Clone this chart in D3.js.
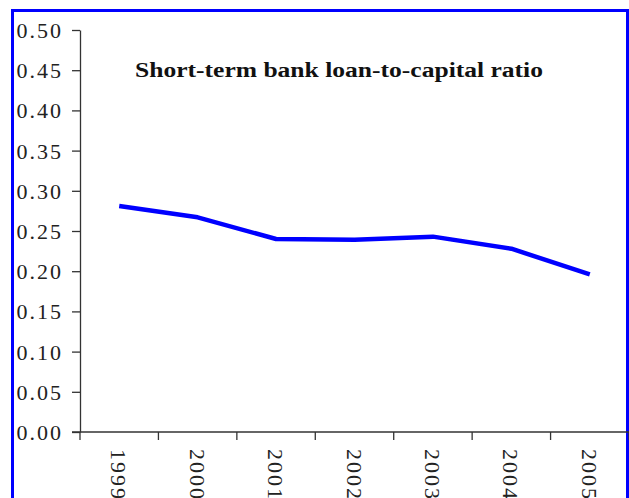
<!DOCTYPE html>
<html>
<head>
<meta charset="utf-8">
<script src="https://cdn.jsdelivr.net/npm/d3@7"></script>
<style>
  body { margin: 0; background: #fff; }
  svg { display: block; }
</style>
</head>
<body>
<div id="chart"></div>
<script>
// Data
var years = ["1999", "2000", "2001", "2002", "2003", "2004", "2005"];
var ratio = [0.281, 0.267, 0.240, 0.239, 0.243, 0.228, 0.196];
var yTicks = [0, 0.05, 0.10, 0.15, 0.20, 0.25, 0.30, 0.35, 0.40, 0.45, 0.50];
var title = "Short-term bank loan-to-capital ratio";

var serif = "'Liberation Serif', 'Times New Roman', Times, serif";

var svgWidth = 629;
var svgHeight = 498;

var margin = {top: 30, right: 0, bottom: 66, left: 80};
var width = svgWidth - margin.left - margin.right;
var height = svgHeight - margin.top - margin.bottom;

var svg = d3.select("#chart")
  .append("svg")
  .attr("width", svgWidth)
  .attr("height", svgHeight);

// blue frame round the chart
svg.append("rect")
  .attr("x", 12.5)
  .attr("y", 10.5)
  .attr("width", 615)
  .attr("height", 520)
  .attr("fill", "none")
  .attr("stroke", "#0000ff")
  .attr("stroke-width", 3);

var chartGroup = svg.append("g")
  .attr("transform", `translate(${margin.left}, ${margin.top})`);

// scales
var xScale = d3.scaleBand()
  .domain(years)
  .range([0, width])
  .padding(0);

var yScale = d3.scaleLinear()
  .domain([0, 0.5])
  .range([height, 0]);

// y axis
var yAxis = d3.axisLeft(yScale)
  .tickValues(yTicks)
  .tickSize(8)
  .tickSizeOuter(0)
  .tickPadding(9)
  .tickFormat(d3.format(".2f"));

var yG = chartGroup.append("g").call(yAxis);
yG.attr("font-family", null);
yG.select(".domain").attr("stroke", "#333").attr("stroke-width", 1.3);
yG.selectAll(".tick line").attr("stroke", "#333").attr("stroke-width", 1.3);
yG.selectAll(".tick text")
  .attr("fill", "#222")
  .style("font-family", serif)
  .style("font-size", "22px")
  .style("letter-spacing", "2px")
  .attr("dy", "0.34em");

// x axis line (runs under the 0.00 tick too)
chartGroup.append("line")
  .attr("x1", -8)
  .attr("x2", width)
  .attr("y1", height)
  .attr("y2", height)
  .attr("stroke", "#333")
  .attr("stroke-width", 1.3);

// tick marks at category boundaries
var bounds = years.map(d => xScale(d)).concat([xScale.range()[1]]);
chartGroup.selectAll("line.xtick")
  .data(bounds)
  .enter()
  .append("line")
  .attr("class", "xtick")
  .attr("x1", d => d)
  .attr("x2", d => d)
  .attr("y1", height)
  .attr("y2", height + 8)
  .attr("stroke", "#333")
  .attr("stroke-width", 1.3);

// rotated year labels
chartGroup.selectAll("text.xlab")
  .data(years)
  .enter()
  .append("text")
  .attr("class", "xlab")
  .attr("transform", d => `translate(${xScale(d) + xScale.bandwidth() / 2 - 8}, ${height + 17}) rotate(90)`)
  .attr("fill", "#222")
  .style("font-family", serif)
  .style("font-size", "22px")
  .style("letter-spacing", "2px")
  .text(d => d);

// the line
var line = d3.line()
  .x((d, i) => xScale(years[i]) + xScale.bandwidth() / 2)
  .y(d => yScale(d));

chartGroup.append("path")
  .datum(ratio)
  .attr("d", line)
  .attr("fill", "none")
  .attr("stroke", "#0000ff")
  .attr("stroke-width", 4.5)
  .attr("stroke-linejoin", "round");

// title
svg.append("text")
  .attr("x", 135)
  .attr("y", 77)
  .attr("textLength", 408)
  .attr("lengthAdjust", "spacingAndGlyphs")
  .style("font-family", serif)
  .style("font-weight", "bold")
  .style("font-size", "20px")
  .attr("fill", "#111")
  .text(title);
</script>
</body>
</html>
